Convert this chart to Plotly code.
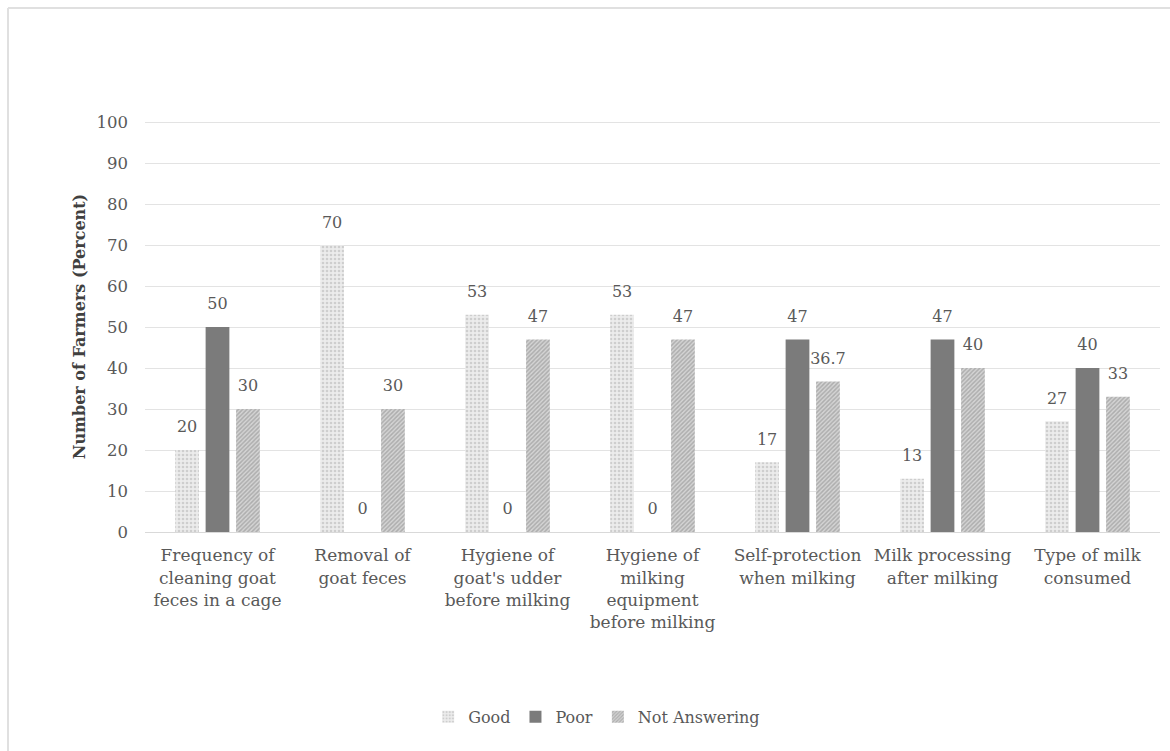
import plotly.graph_objects as go

categories = [
    "Frequency of<br>cleaning goat<br>feces in a cage",
    "Removal of<br>goat feces",
    "Hygiene of<br>goat's udder<br>before milking",
    "Hygiene of<br>milking<br>equipment<br>before milking",
    "Self-protection<br>when milking",
    "Milk processing<br>after milking",
    "Type of milk<br>consumed",
]
good = [20, 70, 53, 53, 17, 13, 27]
poor = [50, 0, 0, 0, 47, 47, 40]
not_answering = [30, 30, 47, 47, 36.7, 40, 33]
y_ticks = list(range(0, 101, 10))

FONT = "DejaVu Serif"
TXT = "#595959"
LABEL_PAD = 2.6  # gap (axis units) between bar top and its value label

series = [
    ("Good", good, "g", dict(color="#ececec", line=dict(width=0),
                             pattern=dict(shape=".", fgcolor="#b0b0b0", bgcolor="#ececec", size=4, solidity=0.35))),
    ("Poor", poor, "p", dict(color="#7b7b7b", line=dict(width=0))),
    ("Not Answering", not_answering, "n", dict(color="#c8c8c8", line=dict(width=0),
                                               pattern=dict(shape="/", fgcolor="#858585", bgcolor="#d4d4d4", size=3, solidity=0.5))),
]

fig = go.Figure()
for name, vals, grp, marker in series:
    fig.add_trace(go.Bar(name=name, x=categories, y=vals, offsetgroup=grp,
                         marker=marker, hoverinfo="name+y"))
for name, vals, grp, marker in series:
    fig.add_trace(go.Bar(
        name=name, x=categories, y=[LABEL_PAD] * len(vals), base=vals, offsetgroup=grp,
        marker=dict(color="rgba(0,0,0,0)", line=dict(width=0)),
        text=[str(v) for v in vals], textposition="outside", constraintext="none",
        textfont=dict(family=FONT, size=16, color=TXT), cliponaxis=False,
        showlegend=False, hoverinfo="skip",
    ))

fig.update_layout(
    width=1170, height=751,
    margin=dict(l=145, r=10, t=121, b=219),
    paper_bgcolor="white", plot_bgcolor="white",
    barmode="group", bargap=0.37, bargroupgap=0.22,
    font=dict(family=FONT, size=16, color=TXT),
    showlegend=True,
    legend=dict(orientation="h", x=0.445, xanchor="center", y=-0.45, yanchor="middle",
                font=dict(family=FONT, size=16, color=TXT), traceorder="normal",
                itemwidth=30),
    xaxis=dict(showgrid=False, showline=True, linecolor="#d9d9d9", linewidth=1,
               ticks="", tickfont=dict(family=FONT, size=17, color=TXT), tickangle=0,
               ticklabelstandoff=8),
    yaxis=dict(range=[0, 100.3], tickvals=y_ticks, showgrid=True, gridcolor="#e3e3e3",
               gridwidth=1, zeroline=False, showline=False, ticks="",
               tickfont=dict(family=FONT, size=16.5, color=TXT), ticklabelstandoff=16,
               title=dict(text="<b>Number of Farmers (Percent)</b>",
                          font=dict(family=FONT, size=16, color="#404040"), standoff=6)),
    shapes=[
        dict(type="line", xref="paper", yref="paper", x0=-0.135, x1=1.1, y0=1.275, y1=1.275,
             line=dict(color="#e0e0e0", width=2)),
        dict(type="line", xref="paper", yref="paper", x0=-0.135, x1=-0.135, y0=1.275, y1=-0.6,
             line=dict(color="#e0e0e0", width=2)),
    ],
)

fig.write_html("out.html")
